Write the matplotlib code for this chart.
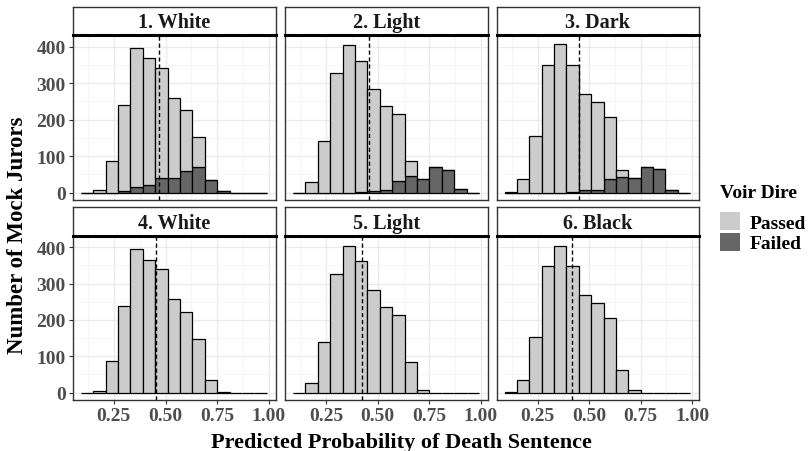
import matplotlib
matplotlib.use("Agg")
import matplotlib.pyplot as plt
from matplotlib.patches import Patch

plt.rcParams["font.family"] = ["Liberation Serif", "DejaVu Serif"]
plt.rcParams["font.weight"] = "bold"

# left edges of histogram bins (binwidth 0.06)
BIN_LEFTS = [0.09, 0.15, 0.21, 0.27, 0.33, 0.39, 0.45, 0.51,
             0.57, 0.63, 0.69, 0.75, 0.81, 0.87, 0.93]
BIN_WIDTH = 0.06

TITLES = ["1. White", "2. Light", "3. Dark", "4. White", "5. Light", "6. Black"]

# counts per bin
passed_1 = [0, 6, 87, 237, 382, 347, 301, 219, 166, 81, 0, 0, 0, 0, 0]
failed_1 = [0, 0, 0, 3, 14, 21, 41, 41, 60, 70, 35, 4, 0, 0, 0]
passed_2 = [0, 28, 142, 327, 404, 360, 279, 230, 183, 42, 0, 0, 0, 0, 0]
failed_2 = [0, 0, 0, 0, 0, 2, 5, 6, 32, 44, 36, 71, 62, 11, 0]
passed_3 = [2, 36, 155, 350, 407, 348, 265, 241, 170, 18, 0, 0, 0, 0, 0]
failed_3 = [0, 0, 0, 0, 0, 2, 6, 7, 36, 43, 39, 69, 64, 6, 0]
passed_4 = [0, 5, 87, 238, 395, 366, 339, 259, 223, 148, 34, 2, 0, 0, 0]
passed_5 = [0, 26, 140, 326, 403, 361, 282, 235, 213, 85, 7, 0, 0, 0, 0]
passed_6 = [2, 35, 153, 349, 405, 349, 270, 246, 205, 63, 6, 0, 0, 0, 0]

PASSED = [passed_1, passed_2, passed_3, passed_4, passed_5, passed_6]
FAILED = [failed_1, failed_2, failed_3, None, None, None]

# mean predicted probability (dashed line)
MEANS = [0.468, 0.457, 0.452, 0.453, 0.423, 0.417]

PASS_COL = "#cccccc"
FAIL_COL = "#666666"

W, H = 809, 452
fig = plt.figure(figsize=(W / 100, H / 100), dpi=100)


def px_axes(x0, y0, x1, y1):
    return fig.add_axes([x0 / W, 1 - y1 / H, (x1 - x0) / W, (y1 - y0) / H])


cols = [(72.7, 276), (285, 488), (496.7, 699)]
rows = [(8.3, 36, 201), (208.3, 236.7, 401)]

for i in range(6):
    r, c = divmod(i, 3)
    x0, x1 = cols[c]
    s_top, s_bot, p_bot = rows[r]

    ax = px_axes(x0, s_bot, x1, p_bot)
    ax.set_xlim(0.051, 1.034)
    ax.set_ylim(-20.5, 432)
    ax.set_xticks([0.25, 0.50, 0.75, 1.00])
    ax.set_xticks([0.125, 0.375, 0.625, 0.875], minor=True)
    ax.set_yticks([0, 100, 200, 300, 400])
    ax.set_yticks([50, 150, 250, 350], minor=True)
    ax.grid(True, which="major", color="#ebebeb", lw=1.0)
    ax.grid(True, which="minor", color="#f4f4f4", lw=0.6)
    ax.set_axisbelow(True)
    ax.tick_params(which="minor", length=0)
    ax.tick_params(which="major", length=3, width=0.8, color="#333333",
                   labelcolor="#4d4d4d", labelsize=14, pad=2)
    for sp in ax.spines.values():
        sp.set_color("#333333")
        sp.set_linewidth(1.0)

    failed = FAILED[i]
    bottom = [0] * len(BIN_LEFTS)
    if failed is not None:
        ax.bar(BIN_LEFTS, failed, width=BIN_WIDTH, align="edge",
               color=FAIL_COL, edgecolor="black", lw=0.9, zorder=2)
        bottom = failed
    ax.bar(BIN_LEFTS, PASSED[i], width=BIN_WIDTH, align="edge", bottom=bottom,
           color=PASS_COL, edgecolor="black", lw=0.9, zorder=2)
    ax.axvline(MEANS[i], color="black", ls=(0, (3, 2)), lw=1.0, zorder=3)

    if c != 0:
        ax.tick_params(axis="y", labelleft=False, length=0)
    if r == 0:
        ax.tick_params(axis="x", labelbottom=False, length=0)

    # facet strip
    sx = px_axes(x0, s_top, x1, s_bot)
    sx.set_xticks([])
    sx.set_yticks([])
    sx.set_facecolor("white")
    for sp in sx.spines.values():
        sp.set_color("#333333")
        sp.set_linewidth(1.0)
    sx.spines["bottom"].set_color("black")
    sx.spines["bottom"].set_linewidth(2.2)
    sx.text(0.5, 0.46, TITLES[i], ha="center", va="center", fontsize=14.5,
            fontweight="bold", color="#1a1a1a", transform=sx.transAxes)

fig.text(401 / W, 1 - 443 / H, "Predicted Probability of Death Sentence",
         ha="center", va="center", fontsize=16, fontweight="bold")
fig.text(18 / W, 1 - 235 / H, "Number of Mock Jurors", ha="center",
         va="center", rotation=90, fontsize=16.5, fontweight="bold")

handles = [Patch(facecolor=PASS_COL, edgecolor="none", label="Passed"),
           Patch(facecolor=FAIL_COL, edgecolor="none", label="Failed")]
leg = fig.legend(handles=handles, title="Voir Dire", loc="upper left",
                 bbox_to_anchor=(720 / W, 1 - 185 / H), frameon=False,
                 fontsize=14, title_fontsize=14, handlelength=1.05,
                 handleheight=1.05, handletextpad=0.45, labelspacing=0.05,
                 borderaxespad=0, borderpad=0)
leg.get_title().set_fontweight("bold")
leg._legend_box.align = "left"
leg._legend_box.sep = 8

fig.savefig("out.png", dpi=100)
